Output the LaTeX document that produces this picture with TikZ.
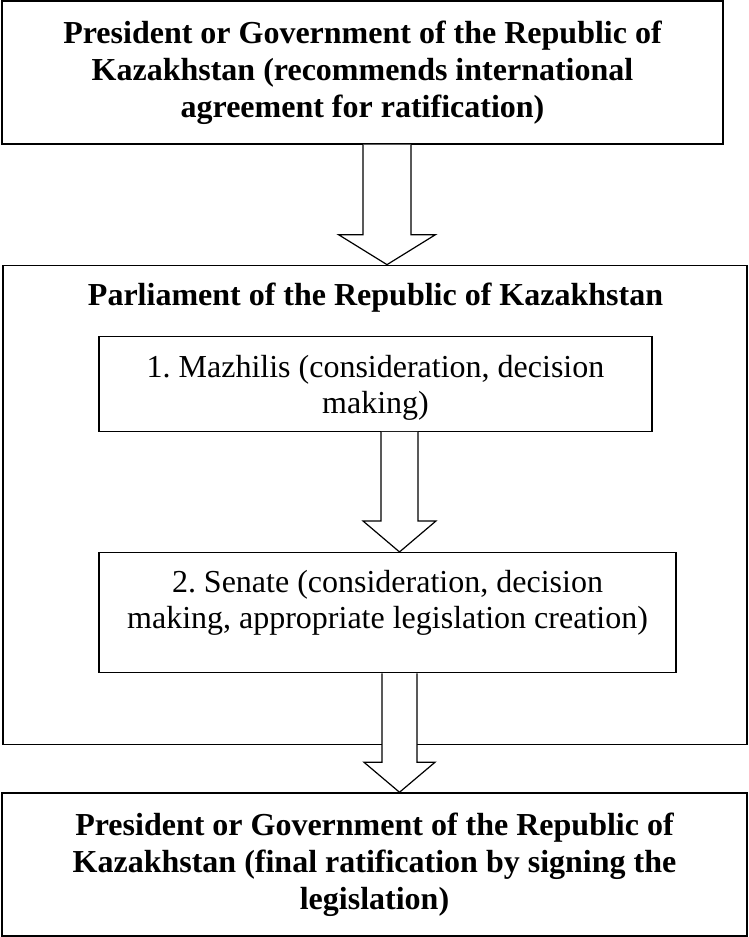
\documentclass[tikz,border=0pt]{standalone}
\usepackage{fontspec}
\setmainfont{Liberation Serif}
\frenchspacing
\usetikzlibrary{positioning,calc}
\tikzset{
  box/.style={rectangle, draw=black, line width=1.3pt, align=center, inner sep=0pt, fill=white},
  boldbox/.style={box, font=\fontsize{32}{37}\selectfont\bfseries},
  plainbox/.style={box, font=\fontsize{32}{36}\selectfont},
  headtext/.style={font=\fontsize{32}{37}\selectfont\bfseries, anchor=base, inner sep=0pt},
  blockarr/.style={draw=black, fill=white, line width=1.2pt, line join=miter},
}
% hollow block arrow: start, end, shaft half width, head half width, head length
\newcommand{\blockarrow}[5]{%
  \filldraw[blockarr] let \p1=(#1), \p2=(#2) in
    (\x1-#3,\y1) -- (\x1-#3,\y2+#5) -- (\x1-#4,\y2+#5) -- (\x1,\y2)
    -- (\x1+#4,\y2+#5) -- (\x1+#3,\y2+#5) -- (\x1+#3,\y1);
}

\begin{document}
\begin{tikzpicture}[x=1pt, y=-1pt]
  \useasboundingbox (0,0) rectangle (748,937);

  \node[boldbox, minimum width=721pt, minimum height=143pt] (top) at (362.5,72.5)
    {President or Government of the Republic of\\Kazakhstan (recommends international\\agreement for ratification)};
  \node[box, minimum width=744pt, minimum height=479pt, below=120pt of top, xshift=12.5pt] (parl) {};
  \node[headtext] (parltitle) at (375.5,305) {Parliament of the Republic of Kazakhstan};
  \node[plainbox, minimum width=553pt, minimum height=95pt, text height=67pt, below=71pt of parl.north, xshift=0.5pt] (mazhilis)
    {1. Mazhilis (consideration, decision\\making)};
  \node[plainbox, minimum width=577pt, minimum height=120pt, text depth=26pt, below=120pt of mazhilis, xshift=12pt] (senate)
    {2. Senate (consideration, decision\\making, appropriate legislation creation)};
  \node[boldbox, minimum width=745pt, minimum height=143pt, below=119pt of senate, xshift=-13pt] (bottom)
    {President or Government of the Republic of\\Kazakhstan (final ratification by signing the\\legislation)};

  \coordinate (a1) at ([xshift=24.5pt]top.south);
  \coordinate (a2) at ([xshift=24pt]mazhilis.south);
  \coordinate (a3) at ([xshift=12pt]senate.south);
  \blockarrow{a1}{a1 |- parl.north}{24pt}{48.5pt}{30pt}
  \blockarrow{a2}{a2 |- senate.north}{18.5pt}{36.5pt}{31pt}
  \blockarrow{a3}{a3 |- bottom.north}{17.5pt}{35.5pt}{30pt}
\end{tikzpicture}
\end{document}
